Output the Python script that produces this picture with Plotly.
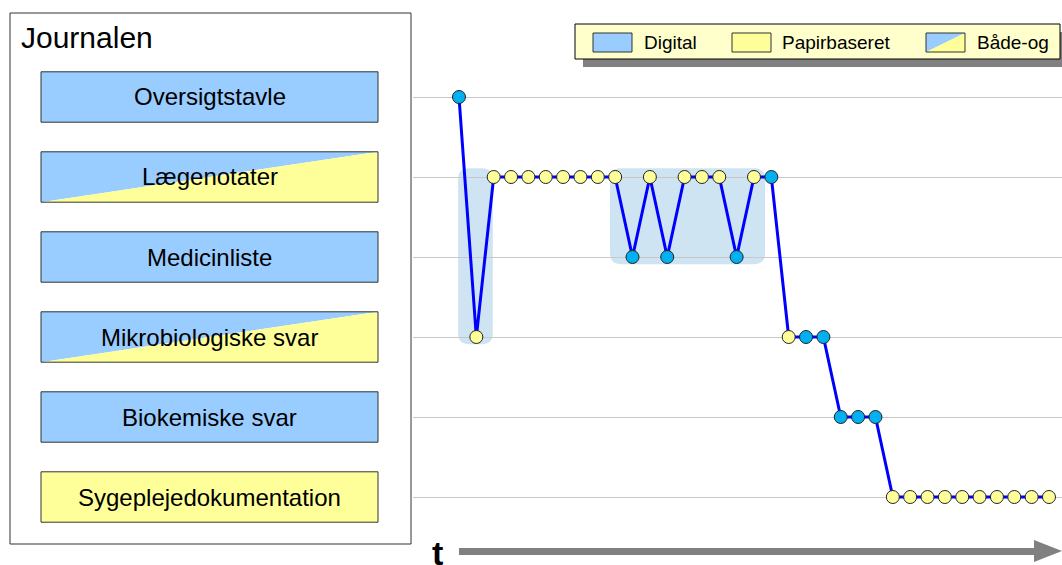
import plotly.graph_objects as go

# ---------------- data ----------------
categories = ["Oversigtstavle", "Lægenotater", "Medicinliste",
              "Mikrobiologiske svar", "Biokemiske svar", "Sygeplejedokumentation"]
category_type = ["digital", "both", "digital", "both", "digital", "paper"]

# level index (0 = Oversigtstavle ... 5 = Sygeplejedokumentation) per time step
levels = [0, 3, 1, 1, 1, 1, 1, 1, 1, 1, 2, 1, 2, 1, 1, 1, 2, 1, 1,
          3, 3, 3, 4, 4, 4, 5, 5, 5, 5, 5, 5, 5, 5, 5, 5]
point_type = ["digital", "paper"] + ["paper"] * 8 + \
             ["digital", "paper", "digital", "paper", "paper", "paper", "digital", "paper", "digital",
              "paper", "digital", "digital", "digital", "digital", "digital"] + ["paper"] * 10
steps = list(range(len(levels)))

# highlighted episodes: (first step, last step, top level, bottom level)
highlights = [(0, 2, 1, 3), (9, 17, 1, 2)]
highlight_pad = [(0.05, 0.05), (0.3, 0.64)]   # (left, right) padding in steps

legend_labels = ["Digital", "Papirbaseret", "Både-og"]
legend_types = ["digital", "paper", "both"]

# ---------------- style ----------------
W, H = 1062, 565
FONT = "Liberation Sans, Arial, sans-serif"
BLUE_FILL = "#99ccff"
YEL_FILL = "#ffff99"
MARK_BLUE = "#00b0f0"
MARK_YEL = "#ffff99"
BORDER = "#333333"

X_DOMAIN = [413 / W, 1.0]
Y_DOMAIN = [1 - 537 / H, 1 - 17 / H]
X_RANGE = [-2.65, 34.75]
Y_RANGE = [5.5, -1.0]
px_per_x = (X_DOMAIN[1] - X_DOMAIN[0]) * W / (X_RANGE[1] - X_RANGE[0])
px_per_y = (Y_DOMAIN[1] - Y_DOMAIN[0]) * H / (Y_RANGE[0] - Y_RANGE[1])


def PX(x):
    return x / W


def PY(y):
    return 1 - y / H


fig = go.Figure()

fig.add_trace(go.Scatter(
    x=steps, y=levels, mode="lines",
    line=dict(color="#0000ff", width=3), hoverinfo="skip"))
fig.add_trace(go.Scatter(
    x=steps, y=levels, mode="markers",
    marker=dict(size=13,
                color=[MARK_BLUE if t == "digital" else MARK_YEL for t in point_type],
                line=dict(color="#222222", width=1))))

shapes = []
annotations = []

# highlight rounded rectangles
r = 11
for (s0, s1, lt, lb), (padl, padr) in zip(highlights, highlight_pad):
    if s0 == 0:
        x0, x1 = s0 - padl, s1 - padr
    else:
        x0, x1 = s0 - padl, s1 + padr
    y0, y1 = lt - 0.11, lb + 0.09
    rx, ry = r / px_per_x, r / px_per_y
    path = (f"M {x0+rx},{y0} L {x1-rx},{y0} Q {x1},{y0} {x1},{y0+ry} "
            f"L {x1},{y1-ry} Q {x1},{y1} {x1-rx},{y1} L {x0+rx},{y1} "
            f"Q {x0},{y1} {x0},{y1-ry} L {x0},{y0+ry} Q {x0},{y0} {x0+rx},{y0} Z")
    shapes.append(dict(type="path", xref="x", yref="y", path=path,
                       fillcolor="#cfe4f3", line=dict(width=0), layer="below"))

# Journalen box
shapes.append(dict(type="rect", xref="paper", yref="paper",
                   x0=PX(10), x1=PX(411), y0=PY(544), y1=PY(13),
                   fillcolor="white", line=dict(color=BORDER, width=1)))
annotations.append(dict(text="Journalen", xref="paper", yref="paper",
                        x=PX(19), y=PY(38), xanchor="left", yanchor="middle",
                        showarrow=False, font=dict(family=FONT, size=30, color="black")))

bx0, bx1 = PX(41), PX(378)
half = 0.315
for i, (name, typ) in enumerate(zip(categories, category_type)):
    top, bot = i - half, i + half
    if typ == "both":
        shapes.append(dict(type="path", xref="paper", yref="y",
                           path=f"M {bx0},{top} L {bx1},{top} L {bx0},{bot} Z",
                           fillcolor=BLUE_FILL, line=dict(width=0)))
        shapes.append(dict(type="path", xref="paper", yref="y",
                           path=f"M {bx0},{bot} L {bx1},{top} L {bx1},{bot} Z",
                           fillcolor=YEL_FILL, line=dict(width=0)))
        shapes.append(dict(type="rect", xref="paper", yref="y",
                           x0=bx0, x1=bx1, y0=top, y1=bot,
                           line=dict(color=BORDER, width=1)))
    else:
        shapes.append(dict(type="rect", xref="paper", yref="y",
                           x0=bx0, x1=bx1, y0=top, y1=bot,
                           fillcolor=BLUE_FILL if typ == "digital" else YEL_FILL,
                           line=dict(color=BORDER, width=1)))
    annotations.append(dict(text=name, xref="paper", yref="y",
                            x=(bx0 + bx1) / 2, y=i, xanchor="center", yanchor="middle",
                            showarrow=False, font=dict(family=FONT, size=24, color="black")))

# legend box with shadow
shapes.append(dict(type="rect", xref="paper", yref="paper",
                   x0=PX(583), x1=PX(1068), y0=PY(67), y1=PY(32),
                   fillcolor="#808080", line=dict(width=0)))
shapes.append(dict(type="rect", xref="paper", yref="paper",
                   x0=PX(575), x1=PX(1060), y0=PY(59), y1=PY(24),
                   fillcolor="#ffffcc", line=dict(color="black", width=1)))
sw_x = [593, 732, 926]
tx_x = [642, 780, 975]
for lab, sx, tx, typ in zip(legend_labels, sw_x, tx_x, legend_types):
    sx0, sx1, sy0, sy1 = PX(sx), PX(sx + 39), PY(52), PY(33)
    if typ == "both":
        shapes.append(dict(type="path", xref="paper", yref="paper",
                           path=f"M {sx0},{sy1} L {sx1},{sy1} L {sx0},{sy0} Z",
                           fillcolor=BLUE_FILL, line=dict(width=0)))
        shapes.append(dict(type="path", xref="paper", yref="paper",
                           path=f"M {sx0},{sy0} L {sx1},{sy1} L {sx1},{sy0} Z",
                           fillcolor=YEL_FILL, line=dict(width=0)))
        shapes.append(dict(type="rect", xref="paper", yref="paper",
                           x0=sx0, x1=sx1, y0=sy0, y1=sy1,
                           line=dict(color=BORDER, width=1)))
    else:
        shapes.append(dict(type="rect", xref="paper", yref="paper",
                           x0=sx0, x1=sx1, y0=sy0, y1=sy1,
                           fillcolor=BLUE_FILL if typ == "digital" else YEL_FILL,
                           line=dict(color=BORDER, width=1)))
    annotations.append(dict(text=lab, xref="paper", yref="paper",
                            x=PX(tx), y=PY(43), xanchor="left", yanchor="middle",
                            showarrow=False, font=dict(family=FONT, size=19, color="black")))

# time arrow
shapes.append(dict(type="rect", xref="paper", yref="paper",
                   x0=PX(459), x1=PX(1036), y0=PY(555), y1=PY(548),
                   fillcolor="#808080", line=dict(width=0)))
shapes.append(dict(type="path", xref="paper", yref="paper",
                   path=f"M {PX(1034)},{PY(540)} L {PX(1062)},{PY(551)} L {PX(1034)},{PY(562)} Z",
                   fillcolor="#808080", line=dict(width=0)))
annotations.append(dict(text="<b>t</b>", xref="paper", yref="paper",
                        x=PX(437), y=PY(553), xanchor="center", yanchor="middle",
                        showarrow=False, font=dict(family=FONT, size=34, color="black")))

fig.update_layout(
    width=W, height=H,
    margin=dict(l=0, r=0, t=0, b=0),
    paper_bgcolor="white", plot_bgcolor="white",
    showlegend=False,
    shapes=shapes, annotations=annotations,
    xaxis=dict(domain=X_DOMAIN, range=X_RANGE, showgrid=False, zeroline=False,
               showticklabels=False, showline=False, fixedrange=True),
    yaxis=dict(domain=Y_DOMAIN, range=Y_RANGE, tickvals=list(range(len(categories))),
               showgrid=True, gridcolor="#c8c8c8", gridwidth=1, zeroline=False,
               showticklabels=False, showline=False, fixedrange=True),
)

fig.write_html("out.html", config={"displayModeBar": False},
               post_script="document.body.style.margin='0';document.body.style.overflow='hidden';")
